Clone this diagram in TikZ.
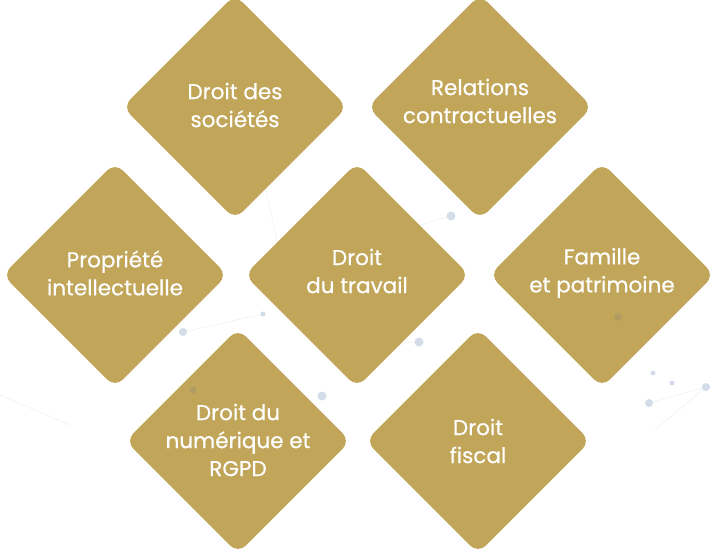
\documentclass[tikz,border=0pt]{standalone}
\usepackage{fontspec}
\setmainfont[FakeBold=0.5]{Poppins}
\usetikzlibrary{shapes.geometric}
\definecolor{gold}{HTML}{C1A65A}
\definecolor{dotc}{HTML}{D3DDEA}
\definecolor{linec}{HTML}{EFF2F5}
\tikzset{
  card/.style={diamond, aspect=1, fill=gold, rounded corners=11pt,
    minimum width=225pt, minimum height=225pt, inner sep=0pt},
  cardtext/.style={text=white, align=center, inner sep=0pt,
    font=\fontsize{21.5}{28}\selectfont},
  netdot/.style={fill=dotc},
  netline/.style={draw=linec, line width=0.6pt},
  ondot/.style={fill=gray, opacity=0.25}
}
\begin{document}
\begin{tikzpicture}[x=1pt,y=-1pt]
\useasboundingbox (0,0) rectangle (717,550);
\fill[white] (0,0) rectangle (717,550);
% faint network background
\coordinate (p1) at (451,216);
\coordinate (p2) at (419,342);
\coordinate (p3) at (398,343);
\coordinate (p4) at (322,396);
\coordinate (p5) at (183,332);
\coordinate (p6) at (263,314);
\coordinate (p7) at (653,373);
\coordinate (p8) at (672,383);
\coordinate (p9) at (706,387);
\coordinate (p10) at (649,403);
\coordinate (q1) at (0,395);
\coordinate (q2) at (70,425);
\coordinate (q3) at (265,185);
\coordinate (q4) at (278,245);
\coordinate (q5) at (420,225);
\coordinate (q6) at (655,430);
\draw[netline] (p1) -- (q5);
\draw[netline] (p2) -- (p3);
\draw[netline] (p10) -- (p9);
\draw[netline] (p9) -- (q6);
\draw[netline] (q1) -- (q2);
\draw[netline] (q3) -- (q4);
\draw[netline] (p5) -- (p6);
\fill[netdot] (p1) circle (4.5);
\fill[netdot] (p2) circle (4.5);
\fill[netdot] (p3) circle (3);
\fill[netdot] (p4) circle (4.5);
\fill[netdot] (p5) circle (4);
\fill[netdot] (p6) circle (2.5);
\fill[netdot] (p7) circle (2.5);
\fill[netdot] (p8) circle (2.5);
\fill[netdot] (p9) circle (4);
\fill[netdot] (p10) circle (4);
% cards
\node[card] (soc) at (235,107) {};
\node[card] (rel) at (480,107) {};
\node[card] (pi) at (115,275) {};
\node[card] (trav) at (357,275) {};
\node[card] (fam) at (602,275) {};
\node[card] (num) at (238,441) {};
\node[card] (fis) at (478,441) {};
\fill[ondot] (618,317) circle (4);
\fill[ondot] (193,390) circle (3.5);
% labels
\node[cardtext] (soct) at (235,105) {Droit des\\sociétés};
\node[cardtext] (relt) at (480,101) {Relations\\contractuelles};
\node[cardtext] (pit) at (115,273) {Propriété\\intellectuelle};
\node[cardtext] (travt) at (357,271) {Droit\\du travail};
\node[cardtext] (famt) at (602,273) {Famille\\et patrimoine};
\node[cardtext] (numt) at (238,440) {Droit du\\numérique et\\RGPD};
\node[cardtext] (fist) at (478,441) {Droit\\fiscal};
\end{tikzpicture}
\end{document}
